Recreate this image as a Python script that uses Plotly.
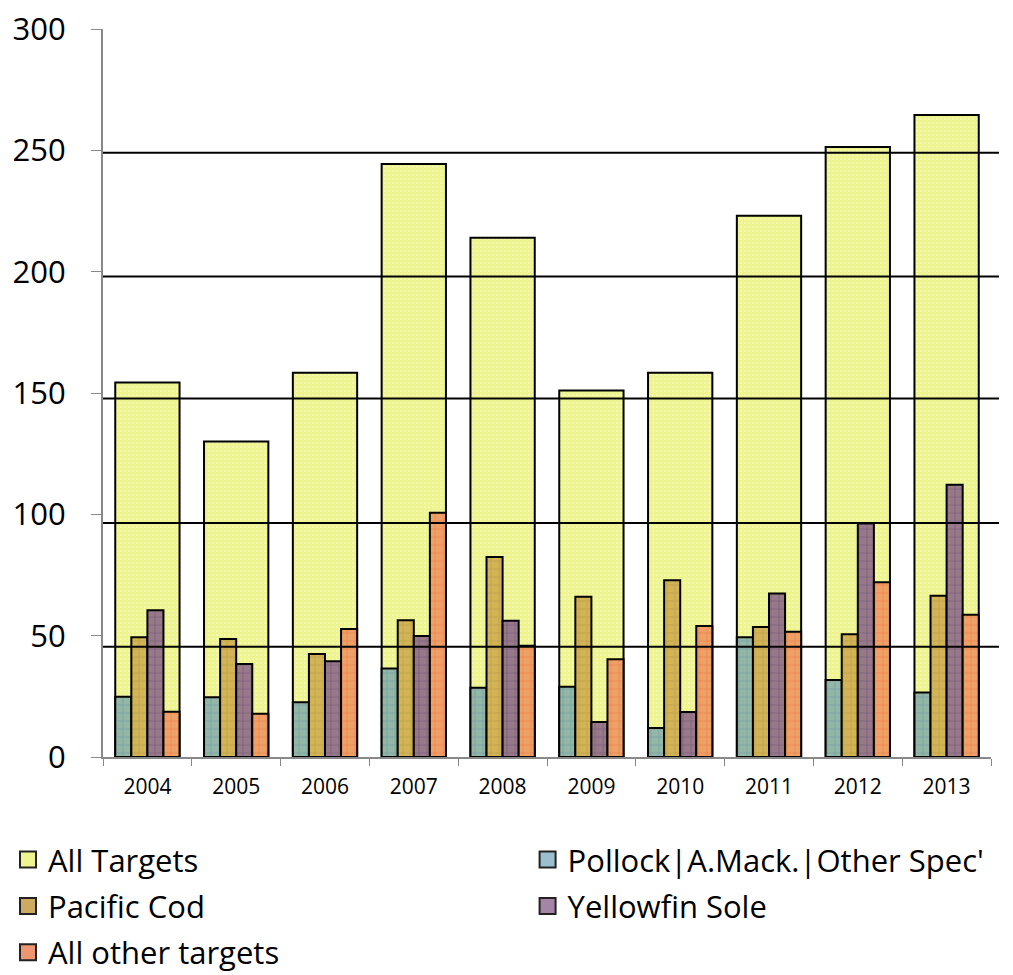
import plotly.graph_objects as go

years = ['2004', '2005', '2006', '2007', '2008', '2009', '2010', '2011', '2012', '2013']

all_targets = [154.3, 130.0, 158.4, 244.4, 214.0, 151.0, 158.4, 223.0, 251.4, 264.6]
pollock = [24.8, 24.6, 22.6, 36.5, 28.5, 28.9, 11.9, 49.3, 31.7, 26.6]
pacific_cod = [49.3, 48.6, 42.4, 56.4, 82.4, 66.0, 72.8, 53.6, 50.6, 66.5]
yellowfin_sole = [60.5, 38.3, 39.5, 49.9, 56.1, 14.4, 18.5, 67.4, 96.2, 112.2]
all_other = [18.6, 17.8, 52.7, 100.7, 45.8, 40.3, 54.0, 51.6, 72.0, 58.6]

# the horizontal rules in the source sit a little off the tick marks
grid_levels = [249, 198, 147.7, 96.4, 45.4]

FONT = 'Open Sans'
small_w = 0.181

fig = go.Figure()


def legend_entry(name, color, leg):
    # bigger square swatch than the bar legend gives
    fig.add_trace(go.Scatter(
        x=[None], y=[None], mode='markers', name=name, legend=leg, legendgroup=name,
        marker=dict(symbol='square', size=18, color=color, line=dict(color='#222222', width=2)),
    ))


fig.add_trace(go.Bar(
    x=years, y=all_targets, name='All Targets', showlegend=False,
    width=4 * small_w, offset=-2 * small_w,
    marker=dict(color='#EEF590', line=dict(color='black', width=2),
                pattern=dict(shape='.', fgcolor='white', bgcolor='#EEF590', size=4, solidity=0.15)),
))

# name, values, fill, hatch colour
small_series = [
    ("Pollock|A.Mack.|Other Spec'", pollock, '#93B7A6', '#4F80A8'),
    ('Pacific Cod', pacific_cod, '#D2B457', '#A8862E'),
    ('Yellowfin Sole', yellowfin_sole, '#98798A', '#5B3C6C'),
    ('All other targets', all_other, '#EFA066', '#E2622E'),
]

for i, (name, vals, bg, fg) in enumerate(small_series):
    fig.add_trace(go.Bar(
        x=years, y=vals, name=name, showlegend=False,
        width=small_w, offset=(i - 2) * small_w,
        marker=dict(color=bg, line=dict(color='black', width=2),
                    pattern=dict(shape='+', fgcolor=fg, bgcolor=bg, size=8, solidity=0.15)),
    ))

legend_entry('All Targets', '#EEF590', 'legend')
legend_entry('Pacific Cod', '#CDAA62', 'legend')
legend_entry('All other targets', '#EE9670', 'legend')
legend_entry("Pollock|A.Mack.|Other Spec'", '#9BBFCF', 'legend2')
legend_entry('Yellowfin Sole', '#A585A5', 'legend2')

for g in grid_levels:
    fig.add_shape(type='line', xref='paper', yref='y', x0=0, x1=1.009, y0=g, y1=g,
                  line=dict(color='black', width=2), layer='above')

legend_style = dict(orientation='v', xanchor='left', xref='container',
                    y=-0.1043, yanchor='top', font=dict(size=31, family=FONT),
                    traceorder='grouped', tracegroupgap=3, bgcolor='rgba(0,0,0,0)',
                    itemwidth=30)

fig.update_layout(
    width=1005, height=967,
    margin=dict(l=95, r=22, t=21, b=218, autoexpand=False),
    barmode='overlay',
    plot_bgcolor='white', paper_bgcolor='white',
    font=dict(family=FONT, color='black'),
    showlegend=True,
    legend=dict(x=0.0, **legend_style),
    legend2=dict(x=0.517, **legend_style),
    xaxis=dict(type='category', showline=True, linecolor='#888888', linewidth=2,
               ticks='outside', tickson='boundaries', ticklen=7, tickcolor='#888888',
               tickangle=0, tickfont=dict(size=21, family=FONT), ticklabelstandoff=10,
               showgrid=False, range=[-0.5, 9.5]),
    yaxis=dict(range=[0, 300.01], tickvals=[0, 50, 100, 150, 200, 250, 300],
               showline=True, linecolor='#888888', linewidth=2,
               ticks='outside', ticklen=10, tickcolor='#888888', showgrid=False,
               zeroline=False, tickfont=dict(size=31, family=FONT), ticklabelstandoff=19,
               ticklabeloverflow='allow'),
)

fig.write_html('out.html')
